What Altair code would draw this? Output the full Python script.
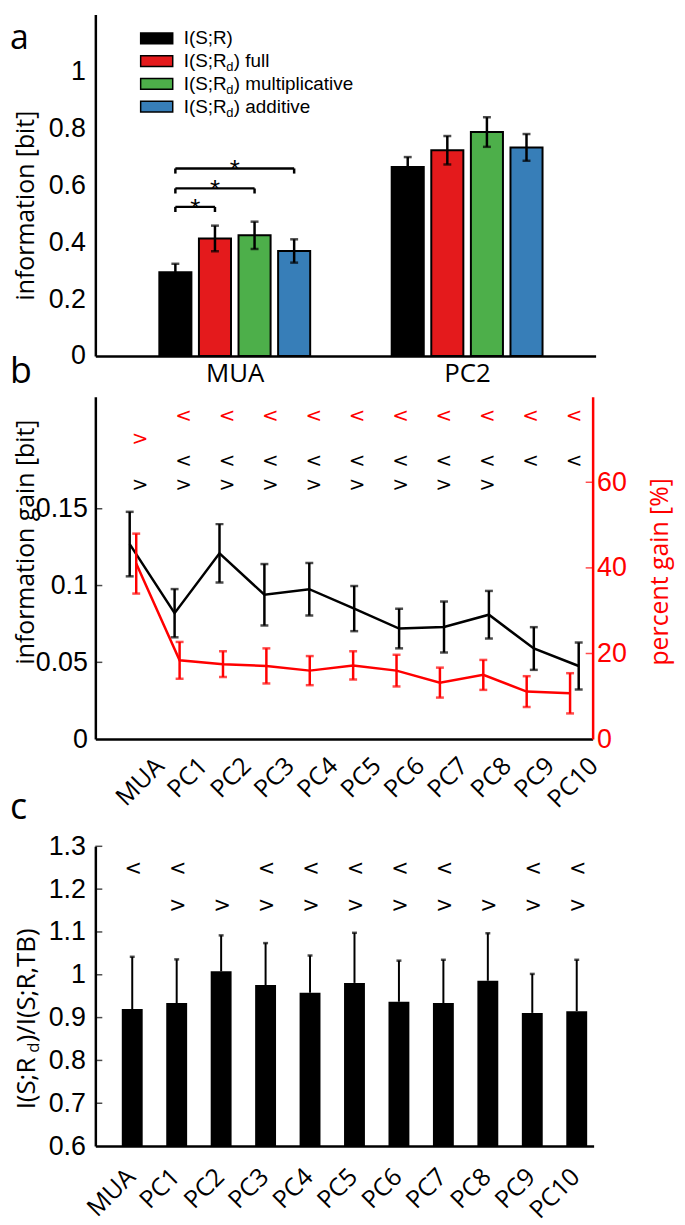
import altair as alt
import pandas as pd

TICK_FONT = "Liberation Sans, Arial, sans-serif"
TEXT_FONT = "Open Sans"
MARK_FONT = "DejaVu Sans"

# ---------------- panel a data ----------------
groups_a = ["MUA", "PC2"]
series_a = ["I(S;R)", "I(S;Rd) full", "I(S;Rd) multiplicative", "I(S;Rd) additive"]
legend_main = ["I(S;R)", "I(S;R", "I(S;R", "I(S;R"]
legend_sub = ["", "d", "d", "d"]
legend_tail = ["", ") full", ") multiplicative", ") additive"]
colors_a = ["#000000", "#e41a1c", "#4daf4a", "#377eb8"]
info_mua = [0.294, 0.413, 0.424, 0.369]
err_mua = [0.030, 0.045, 0.048, 0.041]
info_pc2 = [0.664, 0.723, 0.787, 0.733]
err_pc2 = [0.035, 0.050, 0.052, 0.047]
sig_compare = [1, 2, 3]
sig_height = [0.524, 0.589, 0.659]

# ---------------- panel b data ----------------
labels_pc = ["MUA", "PC1", "PC2", "PC3", "PC4", "PC5", "PC6", "PC7", "PC8", "PC9", "PC10"]
gain_bit = [0.127, 0.082, 0.121, 0.094, 0.0976, 0.085, 0.072, 0.073, 0.081, 0.059, 0.0476]
gain_bit_err = [0.021, 0.0157, 0.019, 0.020, 0.0171, 0.0147, 0.0129, 0.0166, 0.0155, 0.0139, 0.0153]
gain_pct = [41.0, 18.4, 17.5, 17.1, 16.0, 17.2, 16.0, 13.2, 15.0, 11.1, 10.7]
gain_pct_err = [7.0, 4.3, 3.0, 4.1, 3.4, 3.3, 3.7, 3.5, 3.5, 3.6, 4.7]
b_red_lt = [0, 1, 1, 1, 1, 1, 1, 1, 1, 1, 1]
b_red_gt = [1, 0, 0, 0, 0, 0, 0, 0, 0, 0, 0]
b_blk_lt = [0, 1, 1, 1, 1, 1, 1, 1, 1, 1, 1]
b_blk_gt = [1, 1, 1, 1, 1, 1, 1, 1, 1, 0, 0]

# ---------------- panel c data ----------------
ratio = [0.920, 0.934, 1.008, 0.976, 0.958, 0.981, 0.937, 0.934, 0.986, 0.911, 0.915]
ratio_err = [0.122, 0.102, 0.084, 0.098, 0.087, 0.117, 0.096, 0.101, 0.111, 0.091, 0.120]
c_lt = [1, 1, 0, 1, 1, 1, 1, 1, 0, 1, 1]
c_gt = [0, 1, 1, 1, 1, 1, 1, 1, 1, 1, 1]


def js_list(items):
    return "[" + ",".join("'" + s + "'" for s in items) + "]"


TICK_SIZE = 27
LETTER_X = -86

# =============== PANEL A ===============
WA, HA = 504, 344
STEP_A, HALF_A = 0.1704, 0.069
rows = []
for gi, (vals, errs) in enumerate([(info_mua, err_mua), (info_pc2, err_pc2)]):
    for j, s in enumerate(series_a):
        xc = gi + 1 + (j - 1.5) * STEP_A
        rows.append(dict(series=s, xc=xc, x0=xc - HALF_A, x1=xc + HALF_A,
                         val=vals[j], lo=vals[j] - errs[j], hi=vals[j] + errs[j], base=0.0))
df_a = pd.DataFrame(rows)

xa = alt.Scale(domain=[0.4, 2.553], nice=False, zero=False)
ya = alt.Scale(domain=[0, 1.2], nice=False)
xa_axis = alt.Axis(values=[1, 2], labelExpr=js_list(groups_a) + "[datum.value-1]", ticks=False,
                   grid=False, domainColor="black", domainWidth=2.5, labelFont=TEXT_FONT,
                   labelFontSize=26, labelColor="black", labelPadding=5, labelFlush=False, title=None)
ya_axis = alt.Axis(values=[0, 0.2, 0.4, 0.6, 0.8, 1.0], format=".1~f", ticks=False, grid=False,
                   domainColor="black", domainWidth=2.5, labelFont=TICK_FONT, labelFontSize=TICK_SIZE,
                   labelColor="black", labelPadding=10, labelFlush=False,
                   title="information [bit]", titleFont=TEXT_FONT, titleFontSize=25,
                   titleFontWeight="normal", titleColor="black", titleAngle=270,
                   titleAlign="center", titleBaseline="middle", titleX=-70, titleY=192)
color_a = alt.Color("series:N", scale=alt.Scale(domain=series_a, range=colors_a), legend=None)

base_a = alt.Chart(df_a)
bars_a = base_a.mark_bar(stroke="black", strokeWidth=2).encode(
    x=alt.X("x0:Q", scale=xa, axis=xa_axis), x2="x1:Q",
    y=alt.Y("val:Q", scale=ya, axis=ya_axis), y2="base:Q", color=color_a)
err_a = base_a.mark_rule(color="black", strokeWidth=2.5).encode(
    x=alt.X("xc:Q", scale=xa, axis=xa_axis), y=alt.Y("lo:Q", scale=ya, axis=ya_axis), y2="hi:Q")
caphi_a = base_a.mark_tick(orient="horizontal", color="black", size=8, thickness=2.5).encode(
    x=alt.X("xc:Q", scale=xa, axis=xa_axis), y=alt.Y("hi:Q", scale=ya, axis=ya_axis))
caplo_a = base_a.mark_tick(orient="horizontal", color="black", size=8, thickness=2.5).encode(
    x=alt.X("xc:Q", scale=xa, axis=xa_axis), y=alt.Y("lo:Q", scale=ya, axis=ya_axis))

brows = []
for j, h in zip(sig_compare, sig_height):
    x_from = 1 + (0 - 1.5) * STEP_A
    x_to = 1 + (j - 1.5) * STEP_A
    brows.append(dict(bx0=x_from, bx1=x_to, by=h, bylo=h - 0.018, mid=(x_from + x_to) / 2, star="*"))
df_br = pd.DataFrame(brows)
base_br = alt.Chart(df_br)
br_h = base_br.mark_rule(color="black", strokeWidth=2.5).encode(
    x=alt.X("bx0:Q", scale=xa, axis=xa_axis), x2="bx1:Q", y=alt.Y("by:Q", scale=ya, axis=ya_axis))
br_l = base_br.mark_rule(color="black", strokeWidth=2.5).encode(
    x=alt.X("bx0:Q", scale=xa, axis=xa_axis), y=alt.Y("bylo:Q", scale=ya, axis=ya_axis), y2="by:Q")
br_r = base_br.mark_rule(color="black", strokeWidth=2.5).encode(
    x=alt.X("bx1:Q", scale=xa, axis=xa_axis), y=alt.Y("bylo:Q", scale=ya, axis=ya_axis), y2="by:Q")
stars = base_br.mark_text(font=TICK_FONT, fontSize=26, baseline="alphabetic", dy=10, color="black").encode(
    x=alt.X("mid:Q", scale=xa, axis=xa_axis), y=alt.Y("by:Q", scale=ya, axis=ya_axis), text="star:N")

lrows = []
for k, s in enumerate(series_a):
    cy = 1.116 - k * 0.0799
    lrows.append(dict(series=s, lx0=0.595, lx1=0.733, ly0=cy - 0.019, ly1=cy + 0.019, cy=cy, tx=0.78,
                      main=legend_main[k], sub=legend_sub[k], tail=legend_tail[k]))
df_leg = pd.DataFrame(lrows)
base_leg = alt.Chart(df_leg)
leg_rect = base_leg.mark_rect(stroke="black", strokeWidth=1.5).encode(
    x=alt.X("lx0:Q", scale=xa, axis=xa_axis), x2="lx1:Q",
    y=alt.Y("ly0:Q", scale=ya, axis=ya_axis), y2="ly1:Q", color=color_a)
leg_t1 = base_leg.mark_text(align="left", baseline="middle", font=TICK_FONT, fontSize=19, color="black").encode(
    x=alt.X("tx:Q", scale=xa, axis=xa_axis), y=alt.Y("cy:Q", scale=ya, axis=ya_axis), text="main:N")
leg_t2 = base_leg.mark_text(align="left", baseline="middle", font=TICK_FONT, fontSize=13, dx=43, dy=6,
                            color="black").encode(
    x=alt.X("tx:Q", scale=xa, axis=xa_axis), y=alt.Y("cy:Q", scale=ya, axis=ya_axis), text="sub:N")
leg_t3 = base_leg.mark_text(align="left", baseline="middle", font=TICK_FONT, fontSize=19, dx=50.5,
                            color="black").encode(
    x=alt.X("tx:Q", scale=xa, axis=xa_axis), y=alt.Y("cy:Q", scale=ya, axis=ya_axis), text="tail:N")


def letter(ch, ypix, baseline="alphabetic", size=36):
    return alt.Chart(pd.DataFrame({"t": [ch]})).mark_text(
        align="left", baseline=baseline, font=TEXT_FONT, fontSize=size, color="black").encode(
        text="t:N", x=alt.value(LETTER_X), y=alt.value(ypix))


panel_a = alt.layer(bars_a, err_a, caphi_a, caplo_a, br_h, br_l, br_r, stars,
                    leg_rect, leg_t1, leg_t2, leg_t3,
                    letter("a", 8, "top", 34), letter("b", 371)).properties(width=WA, height=HA)

# =============== PANEL B ===============
WB, HB = 501, 345
idx = list(range(1, len(labels_pc) + 1))
df_b = pd.DataFrame(dict(idx=idx, bit=gain_bit,
                         bit_lo=[v - e for v, e in zip(gain_bit, gain_bit_err)],
                         bit_hi=[v + e for v, e in zip(gain_bit, gain_bit_err)],
                         pct=gain_pct,
                         pct_lo=[v - e for v, e in zip(gain_pct, gain_pct_err)],
                         pct_hi=[v + e for v, e in zip(gain_pct, gain_pct_err)]))
xb_k = alt.Scale(domain=[0.235, 11.31], nice=False, zero=False)
xb_r = alt.Scale(domain=[0.058, 11.52], nice=False, zero=False)
yb_l = alt.Scale(domain=[0, 0.223], nice=False)
yb_r = alt.Scale(domain=[0, 80], nice=False)
left_b = alt.Axis(values=[0, 0.05, 0.1, 0.15], format=".2~f", ticks=False, grid=False,
                  domainColor="black", domainWidth=2.5, labelFont=TICK_FONT, labelFontSize=TICK_SIZE,
                  labelColor="black", labelPadding=8, labelFlush=False,
                  title="information gain [bit]", titleFont=TEXT_FONT, titleFontSize=25,
                  titleFontWeight="normal", titleColor="black", titleAngle=270,
                  titleAlign="center", titleBaseline="middle", titleX=-70, titleY=146)
right_b = alt.Axis(orient="right", values=[0, 20, 40, 60], ticks=False, grid=False,
                   domainColor="#ff0000", domainWidth=2.5, labelFont=TICK_FONT, labelFontSize=TICK_SIZE,
                   labelColor="#ff0000", labelPadding=4, labelFlush=False,
                   title="percent gain [%]", titleFont=TEXT_FONT, titleFontSize=25,
                   titleFontWeight="normal", titleColor="#ff0000", titleAngle=270,
                   titleAlign="center", titleBaseline="middle", titleX=67, titleY=176)
bottom_b = alt.Axis(values=idx, labelExpr=js_list(labels_pc) + "[datum.value-1]", ticks=False,
                    grid=False, domainColor="black", domainWidth=2.5, labelFont=TEXT_FONT,
                    labelFontSize=25, labelColor="black", labelAngle=315, labelAlign="right",
                    labelBaseline="top", labelPadding=14, labelOffset=15,
                    labelOverlap=False, labelFlush=False, title=None)

base_b = alt.Chart(df_b)
line_k = base_b.mark_line(color="black", strokeWidth=2.5).encode(
    x=alt.X("idx:Q", scale=xb_k, axis=None), y=alt.Y("bit:Q", scale=yb_l, axis=left_b))
err_k = base_b.mark_rule(color="black", strokeWidth=2.5).encode(
    x=alt.X("idx:Q", scale=xb_k, axis=None), y=alt.Y("bit_lo:Q", scale=yb_l, axis=left_b), y2="bit_hi:Q")
caphi_k = base_b.mark_tick(orient="horizontal", color="black", size=8, thickness=2.5).encode(
    x=alt.X("idx:Q", scale=xb_k, axis=None), y=alt.Y("bit_hi:Q", scale=yb_l, axis=left_b))
caplo_k = base_b.mark_tick(orient="horizontal", color="black", size=8, thickness=2.5).encode(
    x=alt.X("idx:Q", scale=xb_k, axis=None), y=alt.Y("bit_lo:Q", scale=yb_l, axis=left_b))
tk_l = alt.Chart(pd.DataFrame({"v": [0.05, 0.1, 0.15]})).mark_tick(
    orient="horizontal", color="black", size=7, thickness=1.5).encode(
    y=alt.Y("v:Q", scale=yb_l, axis=left_b), x=alt.value(3.5))

line_r = base_b.mark_line(color="#ff0000", strokeWidth=2.5).encode(
    x=alt.X("idx:Q", scale=xb_r, axis=bottom_b), y=alt.Y("pct:Q", scale=yb_r, axis=right_b))
err_r = base_b.mark_rule(color="#ff0000", strokeWidth=2.5).encode(
    x=alt.X("idx:Q", scale=xb_r, axis=bottom_b), y=alt.Y("pct_lo:Q", scale=yb_r, axis=right_b), y2="pct_hi:Q")
caphi_r = base_b.mark_tick(orient="horizontal", color="#ff0000", size=8, thickness=2.5).encode(
    x=alt.X("idx:Q", scale=xb_r, axis=bottom_b), y=alt.Y("pct_hi:Q", scale=yb_r, axis=right_b))
caplo_r = base_b.mark_tick(orient="horizontal", color="#ff0000", size=8, thickness=2.5).encode(
    x=alt.X("idx:Q", scale=xb_r, axis=bottom_b), y=alt.Y("pct_lo:Q", scale=yb_r, axis=right_b))
tk_r = alt.Chart(pd.DataFrame({"v": [20, 40, 60]})).mark_tick(
    orient="horizontal", color="#ff0000", size=7, thickness=1.5).encode(
    y=alt.Y("v:Q", scale=yb_r, axis=right_b), x=alt.value(WB - 3.5))

mrows = []
for sym, col, level, flags in [("<", "#ff0000", 75.4, b_red_lt), (">", "#ff0000", 70.0, b_red_gt),
                               ("<", "black", 64.9, b_blk_lt), (">", "black", 59.3, b_blk_gt)]:
    for i, f in zip(idx, flags):
        if f:
            mrows.append(dict(idx=i, level=level, sym=sym, col=col))
marks_b = alt.Chart(pd.DataFrame(mrows)).mark_text(
    font=MARK_FONT, fontSize=20, baseline="middle", align="center", dx=4).encode(
    x=alt.X("idx:Q", scale=xb_r, axis=bottom_b), y=alt.Y("level:Q", scale=yb_r, axis=right_b),
    text="sym:N", color=alt.Color("col:N", scale=None))

black_layer = alt.layer(line_k, err_k, caphi_k, caplo_k, tk_l, letter("c", 425))
red_layer = alt.layer(line_r, err_r, caphi_r, caplo_r, tk_r, marks_b)
panel_b = alt.layer(black_layer, red_layer).resolve_scale(
    x="independent", y="independent").properties(width=WB, height=HB)

# =============== PANEL C ===============
WC, HC = 502, 302
HALF_C = 0.235
df_c = pd.DataFrame(dict(idx=idx, val=ratio, hi=[v + e for v, e in zip(ratio, ratio_err)],
                         x0=[i - HALF_C for i in idx], x1=[i + HALF_C for i in idx], base=0.6))
xc_s = alt.Scale(domain=[0.17, 11.38], nice=False, zero=False)
yc_s = alt.Scale(domain=[0.6, 1.3], nice=False, zero=False)
yc_axis = alt.Axis(values=[0.6, 0.7, 0.8, 0.9, 1.0, 1.1, 1.2, 1.3], format=".1~f", ticks=False,
                   grid=False, domainColor="black", domainWidth=2.5, labelFont=TICK_FONT,
                   labelFontSize=TICK_SIZE, labelColor="black", labelPadding=10, labelFlush=False, title=None)
xc_axis = alt.Axis(values=idx, labelExpr=js_list(labels_pc) + "[datum.value-1]", ticks=False,
                   grid=False, domainColor="black", domainWidth=2.5, labelFont=TEXT_FONT,
                   labelFontSize=25, labelColor="black", labelAngle=315, labelAlign="right",
                   labelBaseline="top", labelPadding=18, labelOffset=-10,
                   labelOverlap=False, labelFlush=False, title=None)
base_c = alt.Chart(df_c)
bars_c = base_c.mark_bar(color="black").encode(
    x=alt.X("x0:Q", scale=xc_s, axis=xc_axis), x2="x1:Q",
    y=alt.Y("val:Q", scale=yc_s, axis=yc_axis), y2="base:Q")
err_c = base_c.mark_rule(color="black", strokeWidth=2).encode(
    x=alt.X("idx:Q", scale=xc_s, axis=xc_axis), y=alt.Y("val:Q", scale=yc_s, axis=yc_axis), y2="hi:Q")
cap_c = base_c.mark_tick(orient="horizontal", color="black", size=5, thickness=2.5).encode(
    x=alt.X("idx:Q", scale=xc_s, axis=xc_axis), y=alt.Y("hi:Q", scale=yc_s, axis=yc_axis))
tk_c = alt.Chart(pd.DataFrame({"v": [0.7, 0.8, 0.9, 1.0, 1.1, 1.2, 1.3]})).mark_tick(
    orient="horizontal", color="black", size=7, thickness=1.5).encode(
    y=alt.Y("v:Q", scale=yc_s, axis=yc_axis), x=alt.value(3.5))
crows = []
for sym, level, flags in [("<", 1.247, c_lt), (">", 1.160, c_gt)]:
    for i, f in zip(idx, flags):
        if f:
            crows.append(dict(idx=i, level=level, sym=sym))
marks_c = alt.Chart(pd.DataFrame(crows)).mark_text(
    font=MARK_FONT, fontSize=21, baseline="middle", align="center", dx=1, color="black").encode(
    x=alt.X("idx:Q", scale=xc_s, axis=xc_axis), y=alt.Y("level:Q", scale=yc_s, axis=yc_axis), text="sym:N")

title_df = pd.DataFrame({"p1": ["I(S;R"], "p2": ["d"], "p3": [")/I(S;R,TB)"]})
tbase = alt.Chart(title_df)
t1 = tbase.mark_text(align="left", baseline="middle", angle=270, font=TEXT_FONT, fontSize=26,
                     color="black").encode(text="p1:N", x=alt.value(-69), y=alt.value(265))
t2 = tbase.mark_text(align="left", baseline="middle", angle=270, font=TEXT_FONT, fontSize=17,
                     dx=57, dy=7, color="black").encode(text="p2:N", x=alt.value(-69), y=alt.value(265))
t3 = tbase.mark_text(align="left", baseline="middle", angle=270, font=TEXT_FONT, fontSize=26,
                     dx=67.5, color="black").encode(text="p3:N", x=alt.value(-69), y=alt.value(265))

panel_c = alt.layer(bars_c, err_c, cap_c, tk_c, marks_c, t1, t2, t3).properties(width=WC, height=HC)

chart = alt.vconcat(panel_a, panel_b, panel_c, spacing=7).properties(
    padding={"left": 2, "top": 2, "right": 5, "bottom": 4}
).configure_view(stroke=None)

chart.save("out.html", embed_options={"renderer": "svg", "actions": False})
